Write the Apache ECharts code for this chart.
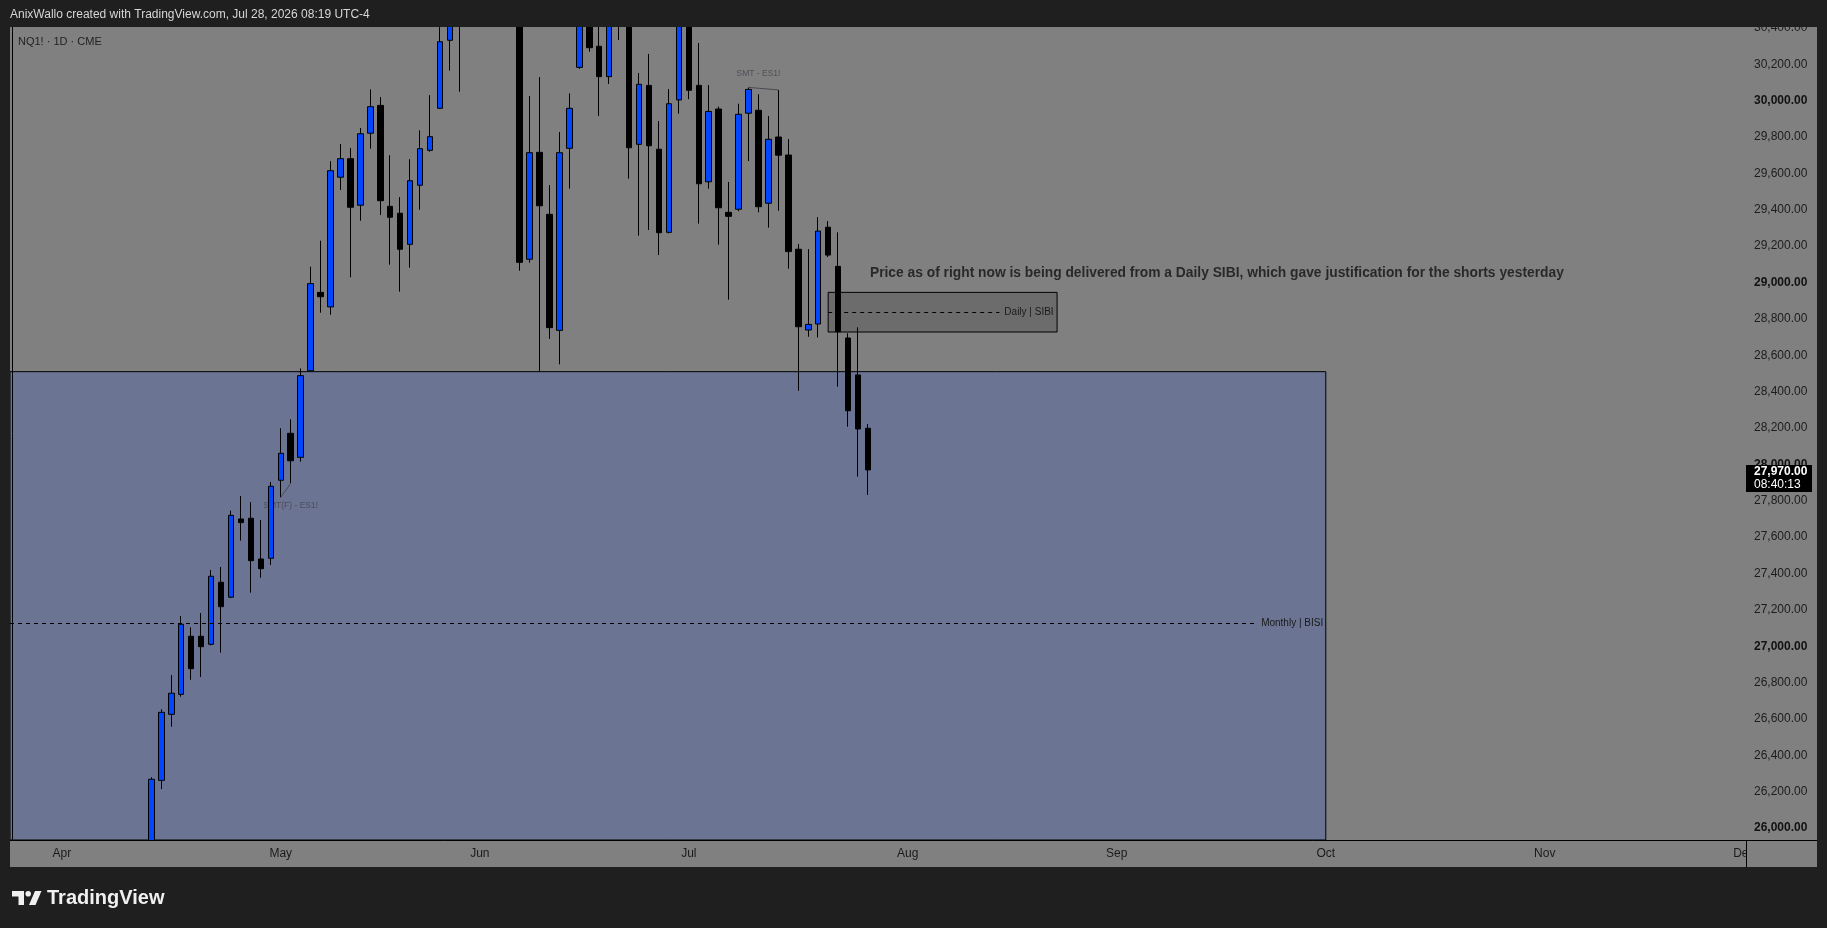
<!DOCTYPE html>
<html>
<head>
<meta charset="utf-8">
<title>NQ1! · 1D · CME</title>
<script src="https://cdn.jsdelivr.net/npm/echarts@6/dist/echarts.min.js"></script>
<style>
  html, body { margin: 0; padding: 0; background: #1f1f1f; }
  #chart { width: 1827px; height: 928px; }
</style>
</head>
<body>
<div id="chart"></div>
<script>
// ---- session calendar (CME equity index futures, daily bars) ----
const SESSION_START = '2026-03-25';
const SESSION_END = '2026-12-31';
const HOLIDAYS = ['2026-05-25', '2026-06-19', '2026-07-03', '2026-09-07', '2026-11-26', '2026-12-25'];
const MONTH_STARTS = ['2026-04-01', '2026-05-01', '2026-06-01', '2026-07-01', '2026-08-03',
                      '2026-09-01', '2026-10-01', '2026-11-02', '2026-12-01'];
const MONTH_LABELS = ['Apr', 'May', 'Jun', 'Jul', 'Aug', 'Sep', 'Oct', 'Nov', 'Dec'];

// ---- NQ1! daily OHLC, consecutive sessions starting FIRST_BAR ----
const FIRST_BAR = '2026-04-14';
const opens = [25870, 26263, 26626, 26736, 27055, 27055, 27011, 27352, 27270, 27700, 27704, 27480, 27484,
  27913, 28171, 28039, 28515, 28946, 28866, 29579, 29681, 29425, 29821, 29974, 29419, 29381, 29210, 29535,
  29727, 29958, 30332, 30530, 30600, 30690, 30640, 30780, 30700, 30540, 29128, 29716, 29375, 28737, 29738,
  30183, 30470, 30299, 30132, 30480, 30420, 29760, 30084, 29733, 29276, 30004, 30460, 30084, 29554, 29954,
  29386, 29403, 29931, 29947, 29436, 29800, 29701, 29183, 28739, 28772, 29304, 29089, 28695, 28492, 28199];
const closes = [26269, 26637, 26742, 27121, 26877, 26998, 27385, 27218, 27720, 27680, 27471, 27427, 27880,
  28061, 28020, 28488, 28994, 28922, 29615, 29681, 29414, 29818, 29967, 29450, 29359, 29183, 29560, 29736,
  29802, 30324, 30520, 30600, 30690, 30640, 30780, 30700, 30560, 29111, 29714, 29422, 28752, 29714, 29958,
  30480, 30291, 30132, 30450, 30420, 29741, 30090, 29752, 29274, 29983, 30450, 30057, 29543, 29941, 29411,
  29364, 29925, 30062, 29417, 29788, 29700, 29170, 28757, 28770, 29283, 29151, 28730, 28295, 28195, 27970];
const lows = [25840, 26215, 26558, 26723, 26816, 26831, 27005, 26965, 27265, 27581, 27295, 27377, 27447,
  27819, 27896, 28015, 28510, 28834, 28823, 29509, 29029, 29340, 29736, 29371, 29098, 28950, 29082, 29400,
  29719, 29955, 30165, 30049, 30520, 30560, 30590, 30620, 30470, 29065, 29109, 28510, 28690, 28550, 29516,
  30175, 30269, 29916, 30092, 30334, 29571, 29258, 29289, 29151, 29270, 29928, 30008, 29324, 29516, 29208,
  28906, 29392, 29668, 29386, 29302, 29395, 29076, 28405, 28702, 28698, 29140, 28427, 28207, 27933, 27832];
const highs = [26280, 26654, 26842, 27167, 27104, 27183, 27420, 27436, 27746, 27826, 27793, 27694, 27903,
  28199, 28248, 28528, 29087, 29230, 29667, 29762, 29740, 29850, 30062, 30020, 29700, 29470, 29678, 29837,
  30030, 30440, 30560, 30640, 30740, 30820, 30860, 30900, 30750, 30580, 30026, 30130, 29536, 29828, 30040,
  30540, 30520, 30430, 30500, 30540, 30450, 30152, 30257, 29888, 30064, 30500, 30520, 30317, 30086, 29967,
  29553, 29983, 30073, 30035, 29916, 30059, 29789, 29212, 29184, 29360, 29338, 29276, 28721, 28754, 28222];
const BAR_COUNTDOWN = '08:40:13';

// ---- drawn zones and notes ----
const monthlyBISI = { top: 28510, level: 27127, until: '2026-10-01', label: 'Monthly | BISI' };
const dailySIBI = { top: 28946, bottom: 28728, level: 28836, from: '2026-07-22', until: '2026-08-24', label: 'Daily | SIBI' };
const smtHighs = { from: '2026-07-10', fromPrice: 30073, to: '2026-07-15', toPrice: 30059, label: 'SMT - ES1!', labelAt: '2026-07-13', labelPrice: 30147 };
const smtLows = { from: '2026-05-01', fromPrice: 27819, to: '2026-05-04', toPrice: 27896, label: 'SMT(F) - ES1!', labelAt: '2026-05-04', labelPrice: 27773 };
const commentary = { at: '2026-07-28', price: 29049,
  text: 'Price as of right now is being delivered from a Daily SIBI, which gave justification for the shorts yesterday' };

// ---- helpers ----
function tradingDays(start, end, holidays) {
  const out = [];
  const d = new Date(start + 'T00:00:00Z');
  const stop = new Date(end + 'T00:00:00Z');
  while (d <= stop) {
    const wd = d.getUTCDay();
    const s = d.toISOString().slice(0, 10);
    if (wd !== 0 && wd !== 6 && holidays.indexOf(s) < 0) out.push(s);
    d.setUTCDate(d.getUTCDate() + 1);
  }
  return out;
}
const days = tradingDays(SESSION_START, SESSION_END, HOLIDAYS);
const dayIndex = s => days.indexOf(s);

const FONT = '"Liberation Sans", Arial, sans-serif';
const X_MIN = dayIndex('2026-04-01') - 5.204;
const X_MAX = X_MIN + 174.424;
const Y_MIN = 25935;
const Y_MAX = 30405;

const firstIdx = dayIndex(FIRST_BAR);
const candles = opens.map((o, i) => [firstIdx + i, o, closes[i], lows[i], highs[i]]);

const monthTickIdx = MONTH_STARTS.map(dayIndex);
const monthLabelByIdx = {};
monthTickIdx.forEach((v, i) => { monthLabelByIdx[v] = MONTH_LABELS[i]; });

const fmtPrice = v => v.toLocaleString('en-US', { minimumFractionDigits: 2, maximumFractionDigits: 2 });

const chart = echarts.init(document.getElementById('chart'), null, { renderer: 'canvas', width: 1827, height: 928 });

const dash = { type: [4, 4], color: '#000', width: 1 };
const smtStyle = { type: 'solid', color: '#4a4a55', width: 1 };
const zoneLabel = { show: true, position: 'end', distance: 5, fontSize: 10, color: '#1a1a1a', fontFamily: FONT };

chart.setOption({
  animation: false,
  backgroundColor: '#808080',
  grid: { left: 10, right: 81, top: 27, bottom: 88, containLabel: false, outerBoundsMode: 'none' },
  xAxis: {
    type: 'value', min: X_MIN, max: X_MAX, z: 10,
    axisLine: { show: true, lineStyle: { color: '#000', width: 1 } },
    axisTick: { show: false },
    splitLine: { show: false },
    axisLabel: {
      customValues: monthTickIdx,
      formatter: v => monthLabelByIdx[v] || '',
      color: '#1a1a1a', fontSize: 12, fontFamily: FONT, margin: 8
    }
  },
  yAxis: {
    type: 'value', position: 'right', min: Y_MIN, max: Y_MAX, z: 10,
    splitNumber: 22, minInterval: 200, maxInterval: 200,
    axisLine: { show: true, lineStyle: { color: '#000', width: 1 } },
    axisTick: { show: false },
    splitLine: { show: false },
    axisLabel: {
      showMinLabel: false, showMaxLabel: false, margin: 8,
      color: '#1c1c1c', fontSize: 12, fontFamily: FONT,
      formatter: v => {
        if (Math.abs(v / 200 - Math.round(v / 200)) > 1e-6) return '';
        const s = fmtPrice(v);
        return (Math.round(v) % 1000 === 0) ? '{k|' + s + '}' : s;
      },
      rich: { k: { fontWeight: 'bold', fontSize: 12, color: '#111', fontFamily: FONT } }
    }
  },
  series: [
    {
      type: 'candlestick',
      z: 2,
      barWidth: 6,
      data: candles,
      itemStyle: {
        color: '#0047ff', color0: '#000000',
        borderColor: '#000000', borderColor0: '#000000', borderWidth: 1
      },
      markArea: {
        silent: true, z: 1,
        data: [
          [{ coord: [X_MIN, monthlyBISI.top], itemStyle: { color: '#6b7492', borderColor: '#000', borderWidth: 1 } },
           { coord: [dayIndex(monthlyBISI.until), Y_MIN] }],
          [{ coord: [dayIndex(dailySIBI.from), dailySIBI.top], itemStyle: { color: '#6c6c6c', borderColor: '#000', borderWidth: 1 } },
           { coord: [dayIndex(dailySIBI.until), dailySIBI.bottom] }]
        ]
      },
      markLine: {
        silent: true, z: 3, symbol: ['none', 'none'],
        data: [
          [{ coord: [X_MIN, monthlyBISI.level], lineStyle: dash, label: Object.assign({ formatter: monthlyBISI.label }, zoneLabel) },
           { coord: [dayIndex(monthlyBISI.until) - 7, monthlyBISI.level] }],
          [{ coord: [dayIndex(dailySIBI.from), dailySIBI.level], lineStyle: dash, label: Object.assign({ formatter: dailySIBI.label }, zoneLabel) },
           { coord: [dayIndex(dailySIBI.until) - 5.8, dailySIBI.level] }],
          [{ coord: [dayIndex(smtHighs.from), smtHighs.fromPrice], lineStyle: smtStyle, label: { show: false } },
           { coord: [dayIndex(smtHighs.to), smtHighs.toPrice] }],
          [{ coord: [dayIndex(smtLows.from), smtLows.fromPrice], lineStyle: smtStyle, label: { show: false } },
           { coord: [dayIndex(smtLows.to), smtLows.toPrice] }]
        ]
      }
    },
    {
      type: 'scatter',
      z: 1.5,
      silent: true,
      symbolSize: 0,
      label: { show: true, formatter: '{b}', fontFamily: FONT },
      data: [
        { name: smtHighs.label, value: [dayIndex(smtHighs.labelAt), smtHighs.labelPrice],
          label: { position: 'inside', fontSize: 8.5, color: '#44444f' } },
        { name: smtLows.label, value: [dayIndex(smtLows.labelAt), smtLows.labelPrice],
          label: { position: 'inside', fontSize: 8.5, color: '#44444f' } },
        { name: commentary.text, value: [dayIndex(commentary.at) + 0.2, commentary.price],
          label: { position: 'right', distance: 0, fontSize: 13.8, fontWeight: 'bold', color: '#111111' } }
      ]
    }
  ]
});

// frame, header, footer and live price tag
const lastClose = closes[closes.length - 1];
const py = chart.convertToPixel({ yAxisIndex: 0 }, lastClose);
const dark = '#1f1f1f';

chart.setOption({
  graphic: [
    { type: 'rect', z: 5, shape: { x: 10, y: 840.5, width: 1807, height: 27 }, style: { fill: '#808080' } },
    { type: 'rect', z: 12, shape: { x: 1746.5, y: 841, width: 71, height: 26 }, style: { fill: '#808080' } },
    { type: 'line', z: 13, shape: { x1: 1746.5, y1: 840, x2: 1746.5, y2: 867 }, style: { stroke: '#000', lineWidth: 1 } },
    { type: 'line', z: 13, shape: { x1: 1746, y1: 840.5, x2: 1817, y2: 840.5 }, style: { stroke: '#000', lineWidth: 1 } },
    { type: 'rect', z: 20, shape: { x: 0, y: 0, width: 1827, height: 27 }, style: { fill: dark } },
    { type: 'rect', z: 20, shape: { x: 0, y: 867, width: 1827, height: 61 }, style: { fill: dark } },
    { type: 'rect', z: 20, shape: { x: 0, y: 0, width: 10, height: 928 }, style: { fill: dark } },
    { type: 'rect', z: 20, shape: { x: 1817, y: 0, width: 10, height: 928 }, style: { fill: dark } },
    { type: 'text', z: 21, x: 10, y: 15,
      style: { text: 'AnixWallo created with TradingView.com, Jul 28, 2026 08:19 UTC-4', fill: '#d6d6d6',
               font: '12px ' + FONT, verticalAlign: 'middle', align: 'left' } },
    { type: 'text', z: 21, x: 18, y: 42,
      style: { text: 'NQ1! · 1D · CME', fill: '#222222', font: '11px ' + FONT, verticalAlign: 'middle', align: 'left' } },
    // TradingView mark
    { type: 'polygon', z: 21, shape: { points: [[12, 891], [24, 891], [24, 905], [18.5, 905], [18.5, 896.5], [12, 896.5]] },
      style: { fill: '#f0f0f0' } },
    { type: 'circle', z: 21, shape: { cx: 28.2, cy: 893.8, r: 2.8 }, style: { fill: '#f0f0f0' } },
    { type: 'polygon', z: 21, shape: { points: [[35, 891], [41.5, 891], [35.5, 905], [29, 905]] }, style: { fill: '#f0f0f0' } },
    { type: 'text', z: 21, x: 47, y: 898,
      style: { text: 'TradingView', fill: '#f0f0f0', font: 'bold 20px ' + FONT, verticalAlign: 'middle', align: 'left' } },
    // last price tag
    { type: 'rect', z: 15, shape: { x: 1746, y: py - 5, width: 66, height: 27 }, style: { fill: '#000' } },
    { type: 'text', z: 16, x: 1754, y: py + 1.5,
      style: { text: fmtPrice(lastClose), fill: '#ffffff', font: 'bold 12px ' + FONT, verticalAlign: 'middle', align: 'left' } },
    { type: 'text', z: 16, x: 1754, y: py + 15,
      style: { text: BAR_COUNTDOWN, fill: '#ffffff', font: '12px ' + FONT, verticalAlign: 'middle', align: 'left' } }
  ]
});
</script>
</body>
</html>
